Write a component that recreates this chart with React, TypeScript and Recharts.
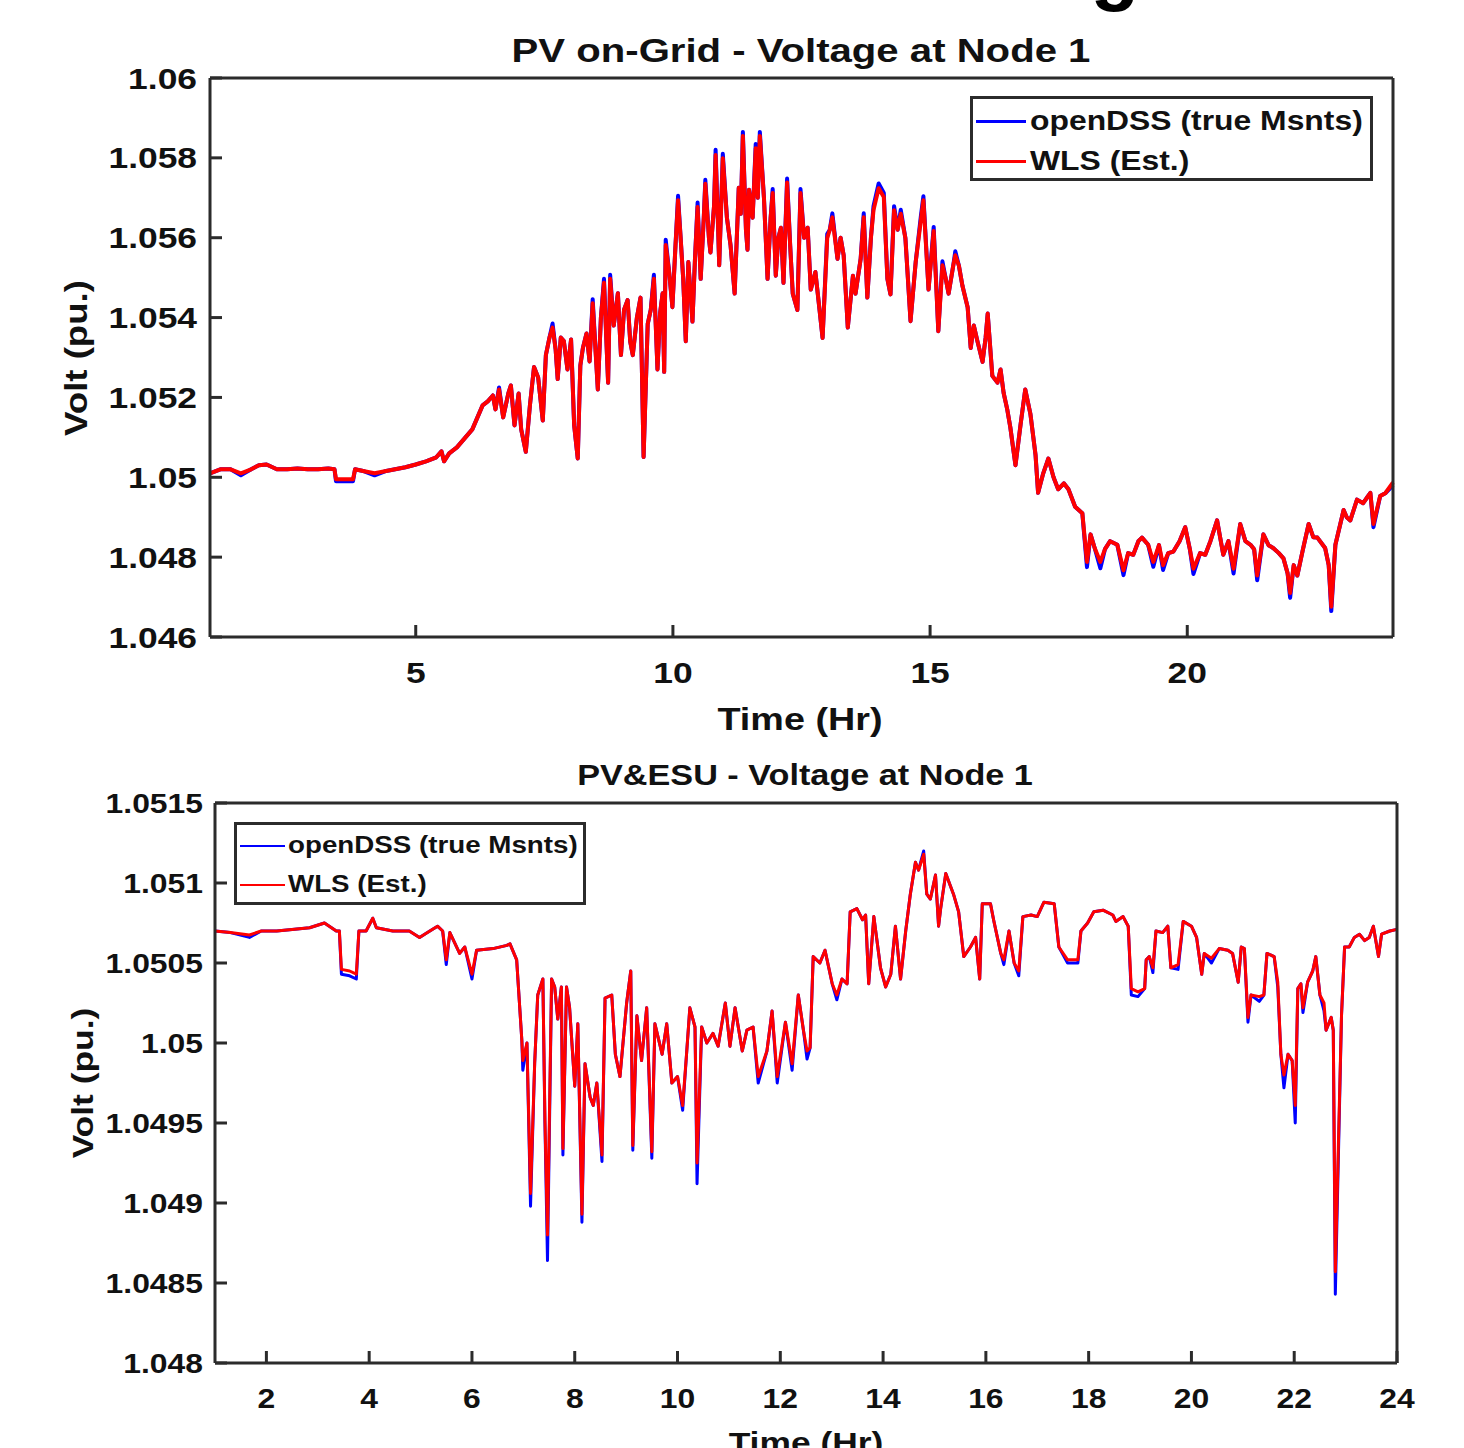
import React from 'react';
import { LineChart, Line, XAxis, YAxis, Legend } from 'recharts';

// ---------- PV on-Grid: voltage at node 1 ----------
const topHours = [
  1.0, 1.2, 1.4, 1.6, 1.8, 1.95, 2.1, 2.3, 2.5, 2.7,
  2.9, 3.1, 3.3, 3.42, 3.45, 3.6, 3.78, 3.82, 4.0, 4.2,
  4.4, 4.6, 4.8, 5.0, 5.2, 5.4, 5.5, 5.55, 5.65, 5.8,
  5.9, 6.0, 6.1, 6.2, 6.3, 6.4, 6.5, 6.55, 6.62, 6.7,
  6.8, 6.85, 6.92, 7.0, 7.05, 7.14, 7.22, 7.3, 7.38, 7.47,
  7.53, 7.6, 7.66, 7.72, 7.76, 7.82, 7.88, 7.95, 8.02, 8.08,
  8.15, 8.2, 8.25, 8.32, 8.38, 8.44, 8.54, 8.6, 8.66, 8.72,
  8.74, 8.78, 8.85, 8.93, 8.99, 9.05, 9.12, 9.17, 9.22, 9.3,
  9.37, 9.43, 9.51, 9.57, 9.63, 9.7, 9.75, 9.8, 9.83, 9.86,
  9.93, 9.99, 10.05, 10.1, 10.15, 10.2, 10.25, 10.3, 10.38, 10.43,
  10.48, 10.54, 10.6, 10.63, 10.7, 10.73, 10.8, 10.83, 10.88, 10.9,
  10.97, 11.05, 11.12, 11.2, 11.28, 11.32, 11.36, 11.42, 11.45, 11.48,
  11.55, 11.61, 11.65, 11.69, 11.77, 11.84, 11.9, 11.94, 12.0, 12.05,
  12.1, 12.15, 12.22, 12.28, 12.33, 12.42, 12.48, 12.55, 12.62, 12.68,
  12.77, 12.85, 12.91, 13.0, 13.05, 13.1, 13.2, 13.26, 13.32, 13.4,
  13.5, 13.55, 13.65, 13.71, 13.78, 13.85, 13.9, 14.0, 14.1, 14.17,
  14.23, 14.3, 14.37, 14.43, 14.52, 14.62, 14.72, 14.82, 14.87, 14.97,
  15.07, 15.16, 15.24, 15.3, 15.36, 15.45, 15.49, 15.56, 15.63, 15.73,
  15.79, 15.85, 15.92, 16.02, 16.08, 16.12, 16.21, 16.31, 16.37, 16.43,
  16.5, 16.56, 16.66, 16.76, 16.85, 16.95, 17.05, 17.1, 17.2, 17.3,
  17.4, 17.49, 17.6, 17.69, 17.82, 17.96, 18.05, 18.12, 18.2, 18.31,
  18.4, 18.5, 18.64, 18.76, 18.85, 18.95, 19.05, 19.12, 19.24, 19.34,
  19.45, 19.53, 19.63, 19.73, 19.85, 19.96, 20.05, 20.12, 20.25, 20.35,
  20.45, 20.58, 20.7, 20.8, 20.9, 21.03, 21.13, 21.23, 21.3, 21.36,
  21.48, 21.58, 21.67, 21.78, 21.87, 21.95, 22.0, 22.07, 22.14, 22.25,
  22.36, 22.45, 22.53, 22.68, 22.75, 22.8, 22.88, 23.04, 23.1, 23.17,
  23.3, 23.42, 23.5, 23.56, 23.62, 23.75, 23.85, 24.0,
];

// openDSS (true measurements)
const topTrue = [
  1.0501, 1.0502, 1.0502, 1.05005, 1.0502, 1.0503, 1.05032, 1.0502, 1.0502, 1.05022,
  1.0502, 1.0502, 1.05022, 1.0502, 1.0499, 1.0499, 1.0499, 1.0502, 1.05015, 1.05005,
  1.05015, 1.0502, 1.05025, 1.05032, 1.0504, 1.0505, 1.05065, 1.0504, 1.0506, 1.05075,
  1.0509, 1.05105, 1.0512, 1.0515, 1.0518, 1.0519, 1.05205, 1.0517, 1.05225, 1.0515,
  1.0521, 1.0523, 1.0513, 1.0521, 1.0512, 1.05064, 1.0518, 1.05276, 1.0525, 1.05142,
  1.05306, 1.0535, 1.05385, 1.0532, 1.05246, 1.0535, 1.05341, 1.0527, 1.05345, 1.0513,
  1.05047, 1.0528, 1.05324, 1.0536, 1.0529, 1.05446, 1.0522, 1.054, 1.05497, 1.053,
  1.05237, 1.05507, 1.0538, 1.05461, 1.05306, 1.0542, 1.05444, 1.0534, 1.05306, 1.054,
  1.0545, 1.05051, 1.05384, 1.0542, 1.05507, 1.0527, 1.0541, 1.05461, 1.05264, 1.05595,
  1.0551, 1.05426, 1.0558, 1.05705, 1.056, 1.05497, 1.05341, 1.05539, 1.0539, 1.0555,
  1.05688, 1.05497, 1.0565, 1.05745, 1.056, 1.05563, 1.0568, 1.0582, 1.0562, 1.05531,
  1.0581, 1.0565, 1.05582, 1.0546, 1.05725, 1.0566, 1.05865, 1.0562, 1.0557, 1.0572,
  1.0565, 1.05835, 1.057, 1.05865, 1.057, 1.05497, 1.0565, 1.05722, 1.05505, 1.056,
  1.05625, 1.05487, 1.05748, 1.0558, 1.0546, 1.05419, 1.05722, 1.056, 1.05625, 1.0547,
  1.05514, 1.0542, 1.05349, 1.05609, 1.0562, 1.05661, 1.05547, 1.056, 1.05556, 1.05375,
  1.05505, 1.0546, 1.05547, 1.05661, 1.0545, 1.056, 1.05679, 1.05736, 1.05712, 1.05497,
  1.05458, 1.05679, 1.0562, 1.0567, 1.05599, 1.05391, 1.05539, 1.05653, 1.05704, 1.0547,
  1.05627, 1.05366, 1.05541, 1.055, 1.0546, 1.0553, 1.05566, 1.0553, 1.05479, 1.05426,
  1.05324, 1.0538, 1.05341, 1.05289, 1.0535, 1.0541, 1.05254, 1.05237, 1.0527, 1.05211,
  1.0517, 1.05125, 1.0503, 1.05133, 1.0522, 1.05159, 1.05056, 1.04961, 1.0501, 1.05047,
  1.05, 1.0497, 1.04985, 1.0497, 1.04926, 1.0491, 1.04775, 1.04857, 1.04823, 1.04772,
  1.0482, 1.0484, 1.04831, 1.04755, 1.0481, 1.04806, 1.0484, 1.04849, 1.04831, 1.04776,
  1.0483, 1.04768, 1.0481, 1.04814, 1.0484, 1.04875, 1.0482, 1.04758, 1.0481, 1.04806,
  1.0484, 1.04892, 1.04806, 1.0484, 1.04759, 1.04883, 1.0484, 1.04831, 1.0482, 1.04742,
  1.04857, 1.0483, 1.04823, 1.0481, 1.04797, 1.0476, 1.04698, 1.0478, 1.04754, 1.0482,
  1.04883, 1.0485, 1.04849, 1.04823, 1.0478, 1.04665, 1.04831, 1.04918, 1.049, 1.04892,
  1.04944, 1.04935, 1.0495, 1.04961, 1.04875, 1.04953, 1.0496, 1.0498,
];

// WLS (estimated)
const topEst = [
  1.0501, 1.0502, 1.0502, 1.0501, 1.0502, 1.0503, 1.05032, 1.0502, 1.0502, 1.05022,
  1.0502, 1.0502, 1.05022, 1.0502, 1.04995, 1.04995, 1.04995, 1.0502, 1.05015, 1.0501,
  1.05015, 1.0502, 1.05025, 1.05032, 1.0504, 1.0505, 1.05065, 1.0504, 1.0506, 1.05075,
  1.0509, 1.05105, 1.0512, 1.0515, 1.0518, 1.0519, 1.05205, 1.0517, 1.0522, 1.0515,
  1.0521, 1.0523, 1.0513, 1.0521, 1.0512, 1.05064, 1.0518, 1.05276, 1.0525, 1.05142,
  1.05306, 1.0535, 1.05375, 1.0532, 1.05246, 1.0535, 1.05341, 1.0527, 1.05345, 1.0513,
  1.05047, 1.0528, 1.05324, 1.0536, 1.0529, 1.05436, 1.0522, 1.054, 1.05487, 1.053,
  1.05237, 1.05497, 1.0538, 1.05461, 1.05306, 1.0542, 1.05444, 1.0534, 1.05306, 1.054,
  1.0545, 1.05051, 1.05384, 1.0542, 1.05497, 1.0527, 1.0541, 1.05461, 1.05264, 1.05582,
  1.0551, 1.05426, 1.0558, 1.05694, 1.056, 1.05497, 1.05341, 1.05539, 1.0539, 1.0555,
  1.05677, 1.05497, 1.0565, 1.05735, 1.056, 1.05563, 1.0568, 1.05807, 1.0562, 1.05531,
  1.05799, 1.0565, 1.05582, 1.0546, 1.05725, 1.0566, 1.05855, 1.0562, 1.0557, 1.0572,
  1.0565, 1.05824, 1.057, 1.05855, 1.057, 1.05497, 1.0565, 1.05712, 1.05505, 1.056,
  1.05625, 1.05487, 1.05738, 1.0558, 1.0546, 1.05419, 1.05712, 1.056, 1.05625, 1.0547,
  1.05514, 1.0542, 1.05349, 1.05599, 1.0562, 1.05651, 1.05547, 1.056, 1.05556, 1.05375,
  1.05505, 1.0546, 1.05547, 1.05651, 1.0545, 1.056, 1.05669, 1.05724, 1.05702, 1.05497,
  1.05458, 1.05669, 1.0562, 1.0566, 1.05599, 1.05391, 1.05539, 1.05643, 1.05694, 1.0547,
  1.05617, 1.05366, 1.05531, 1.055, 1.0546, 1.0553, 1.05556, 1.0553, 1.05479, 1.05426,
  1.05324, 1.0538, 1.05341, 1.05289, 1.0535, 1.0541, 1.05254, 1.05237, 1.0527, 1.05211,
  1.0517, 1.05125, 1.0503, 1.05133, 1.0522, 1.05159, 1.05056, 1.04961, 1.0501, 1.05047,
  1.05, 1.0497, 1.04985, 1.0497, 1.04926, 1.0491, 1.04788, 1.04857, 1.04823, 1.04788,
  1.0482, 1.0484, 1.04831, 1.04767, 1.0481, 1.04806, 1.0484, 1.04849, 1.04831, 1.04788,
  1.0483, 1.0478, 1.0481, 1.04814, 1.0484, 1.04875, 1.0482, 1.04771, 1.0481, 1.04806,
  1.0484, 1.04892, 1.04806, 1.0484, 1.04771, 1.04883, 1.0484, 1.04831, 1.0482, 1.04754,
  1.04857, 1.0483, 1.04823, 1.0481, 1.04797, 1.0476, 1.0471, 1.0478, 1.04754, 1.0482,
  1.04883, 1.0485, 1.04849, 1.04823, 1.0478, 1.04676, 1.04831, 1.04918, 1.049, 1.04892,
  1.04944, 1.04935, 1.0495, 1.04961, 1.04883, 1.04953, 1.0496, 1.04987,
];

// ---------- PV & ESU: voltage at node 1 ----------
const bottomHours = [
  1.0, 1.3, 1.67, 1.9, 2.2, 2.5, 2.84, 3.13, 3.36, 3.42,
  3.46, 3.62, 3.75, 3.8, 3.94, 4.07, 4.14, 4.46, 4.78, 4.98,
  5.18, 5.33, 5.43, 5.5, 5.57, 5.76, 5.86, 6.0, 6.09, 6.41,
  6.68, 6.74, 6.87, 6.97, 6.99, 7.07, 7.14, 7.22, 7.28, 7.38,
  7.42, 7.47, 7.55, 7.61, 7.67, 7.74, 7.77, 7.84, 7.9, 8.0,
  8.06, 8.14, 8.2, 8.3, 8.36, 8.43, 8.53, 8.59, 8.72, 8.79,
  8.88, 9.01, 9.09, 9.13, 9.21, 9.3, 9.4, 9.5, 9.56, 9.7,
  9.79, 9.89, 10.0, 10.1, 10.18, 10.24, 10.34, 10.38, 10.47, 10.57,
  10.69, 10.79, 10.93, 11.02, 11.12, 11.26, 11.35, 11.47, 11.57, 11.74,
  11.84, 11.94, 12.1, 12.23, 12.35, 12.45, 12.52, 12.58, 12.64, 12.77,
  12.87, 13.01, 13.1, 13.2, 13.3, 13.36, 13.49, 13.6, 13.66, 13.72,
  13.82, 13.95, 14.05, 14.15, 14.24, 14.34, 14.44, 14.53, 14.63, 14.69,
  14.79, 14.85, 14.92, 15.02, 15.08, 15.12, 15.22, 15.37, 15.47, 15.57,
  15.7, 15.8, 15.88, 15.93, 16.09, 16.15, 16.29, 16.35, 16.45, 16.55,
  16.64, 16.72, 16.88, 17.0, 17.13, 17.33, 17.42, 17.59, 17.79, 17.85,
  17.98, 18.1, 18.28, 18.47, 18.53, 18.67, 18.77, 18.83, 18.96, 19.09,
  19.12, 19.18, 19.25, 19.31, 19.44, 19.54, 19.6, 19.74, 19.84, 20.0,
  20.1, 20.2, 20.25, 20.39, 20.54, 20.71, 20.8, 20.91, 20.97, 21.03,
  21.1, 21.16, 21.32, 21.41, 21.47, 21.61, 21.68, 21.74, 21.8, 21.88,
  21.96, 22.02, 22.07, 22.13, 22.17, 22.26, 22.36, 22.42, 22.5, 22.58,
  22.62, 22.72, 22.76, 22.8, 22.92, 22.98, 23.07, 23.17, 23.27, 23.37,
  23.46, 23.54, 23.64, 23.7, 23.86, 24.0,
];

const bottomTrue = [
  1.0507, 1.05069, 1.05066, 1.0507, 1.0507, 1.05071, 1.05072, 1.05075, 1.0507, 1.0507,
  1.05043, 1.05042, 1.0504, 1.0507, 1.0507, 1.05078, 1.05072, 1.0507, 1.0507, 1.05066,
  1.0507, 1.05073, 1.0507, 1.05049, 1.05069, 1.05056, 1.0506, 1.0504, 1.05058, 1.05059,
  1.05061, 1.05062, 1.05052, 1.05002, 1.04983, 1.05, 1.04898, 1.04987, 1.0503, 1.0504,
  1.0495, 1.04864, 1.0504, 1.05035, 1.05015, 1.05035, 1.0493, 1.05035, 1.05022, 1.04973,
  1.05012, 1.04888, 1.04987, 1.04966, 1.04961, 1.04975, 1.04926, 1.05028, 1.0503, 1.04993,
  1.04979, 1.05025, 1.05045, 1.04933, 1.05017, 1.04989, 1.05022, 1.04928, 1.05012, 1.04993,
  1.05012, 1.04975, 1.04979, 1.04958, 1.04995, 1.05022, 1.0501, 1.04912, 1.0501, 1.05,
  1.05006, 1.04998, 1.05025, 1.04998, 1.05022, 1.04995, 1.05008, 1.0501, 1.04975, 1.04995,
  1.0502, 1.04975, 1.05013, 1.04983, 1.0503, 1.05008, 1.0499, 1.04997, 1.05054, 1.0505,
  1.05058, 1.05037, 1.05027, 1.0504, 1.05037, 1.05082, 1.05084, 1.05077, 1.0508, 1.05037,
  1.05079, 1.05047, 1.05035, 1.05043, 1.05073, 1.0504, 1.0507, 1.05093, 1.05113, 1.05108,
  1.0512, 1.05093, 1.0509, 1.05105, 1.05073, 1.05084, 1.05106, 1.05093, 1.05082, 1.05054,
  1.0506, 1.05066, 1.0504, 1.05087, 1.05087, 1.05077, 1.05056, 1.05049, 1.0507, 1.0505,
  1.05042, 1.05079, 1.0508, 1.05079, 1.05088, 1.05087, 1.0506, 1.0505, 1.0505, 1.0507,
  1.05075, 1.05082, 1.05083, 1.0508, 1.05076, 1.05079, 1.05073, 1.0503, 1.05029, 1.05034,
  1.05052, 1.05054, 1.05044, 1.0507, 1.05069, 1.05073, 1.05047, 1.05046, 1.05076, 1.05073,
  1.05066, 1.05043, 1.05056, 1.0505, 1.05059, 1.05058, 1.05056, 1.05038, 1.0506, 1.05059,
  1.05013, 1.0503, 1.05026, 1.0503, 1.05056, 1.05054, 1.05035, 1.04993, 1.04972, 1.04993,
  1.04989, 1.0495, 1.05034, 1.05037, 1.05019, 1.05038, 1.05045, 1.05054, 1.0503, 1.0502,
  1.05008, 1.05016, 1.05008, 1.04843, 1.05017, 1.0506, 1.0506, 1.05066, 1.05068, 1.05064,
  1.05066, 1.05073, 1.05054, 1.05068, 1.0507, 1.05071,
];

const bottomEst = [
  1.0507, 1.05069, 1.050675, 1.0507, 1.0507, 1.05071, 1.05072, 1.05075, 1.0507, 1.0507,
  1.05046, 1.05045, 1.05043, 1.0507, 1.0507, 1.05078, 1.05072, 1.0507, 1.0507, 1.05066,
  1.0507, 1.05073, 1.0507, 1.05052, 1.05069, 1.05056, 1.0506, 1.05043, 1.05058, 1.05059,
  1.05061, 1.05062, 1.05052, 1.05002, 1.04989, 1.05, 1.04906, 1.04987, 1.0503, 1.0504,
  1.04952, 1.0488, 1.0504, 1.05035, 1.05015, 1.05035, 1.04934, 1.05035, 1.05022, 1.04973,
  1.05012, 1.04893, 1.04987, 1.04966, 1.04961, 1.04975, 1.0493, 1.05028, 1.0503, 1.04993,
  1.04979, 1.05025, 1.05045, 1.04936, 1.05017, 1.04989, 1.05022, 1.04932, 1.05012, 1.04993,
  1.05012, 1.04975, 1.04979, 1.04961, 1.04995, 1.05022, 1.0501, 1.04925, 1.0501, 1.05,
  1.05006, 1.04998, 1.05025, 1.04998, 1.05022, 1.04995, 1.05008, 1.0501, 1.04979, 1.04995,
  1.0502, 1.04979, 1.05013, 1.04987, 1.0503, 1.05008, 1.04995, 1.04997, 1.05054, 1.0505,
  1.05058, 1.05037, 1.0503, 1.0504, 1.05037, 1.05082, 1.05084, 1.05077, 1.0508, 1.05037,
  1.05079, 1.05047, 1.05035, 1.05043, 1.05073, 1.0504, 1.0507, 1.05093, 1.05113, 1.05108,
  1.05118, 1.05093, 1.0509, 1.05105, 1.05073, 1.05084, 1.05106, 1.05093, 1.05082, 1.05054,
  1.0506, 1.05066, 1.0504, 1.05087, 1.05087, 1.05077, 1.05056, 1.05052, 1.0507, 1.0505,
  1.05045, 1.05079, 1.0508, 1.05079, 1.05088, 1.05087, 1.0506, 1.05052, 1.05052, 1.0507,
  1.05075, 1.05082, 1.05083, 1.0508, 1.05076, 1.05079, 1.05073, 1.05034, 1.05032, 1.05034,
  1.05052, 1.05054, 1.05047, 1.0507, 1.05069, 1.05073, 1.05047, 1.05049, 1.05076, 1.05073,
  1.05066, 1.05043, 1.05056, 1.05053, 1.05059, 1.05058, 1.05056, 1.05038, 1.0506, 1.05059,
  1.05016, 1.0503, 1.05029, 1.0503, 1.05056, 1.05054, 1.05038, 1.04993, 1.0498, 1.04993,
  1.04989, 1.04961, 1.05034, 1.05037, 1.05022, 1.05038, 1.05045, 1.05054, 1.0503, 1.05025,
  1.05008, 1.05016, 1.05008, 1.04857, 1.05017, 1.0506, 1.0506, 1.05066, 1.05068, 1.05064,
  1.05066, 1.05073, 1.05054, 1.05068, 1.0507, 1.05071,
];

// Axis ticks
const topXTicks = [5, 10, 15, 20];
const topYTicks = [1.046, 1.048, 1.05, 1.052, 1.054, 1.056, 1.058, 1.06];
const bottomXTicks = [2, 4, 6, 8, 10, 12, 14, 16, 18, 20, 22, 24];
const bottomYTicks = [1.048, 1.0485, 1.049, 1.0495, 1.05, 1.0505, 1.051, 1.0515];

const seriesNames = ['openDSS (true Msnts)', 'WLS (Est.)'];
const seriesColors = ['#0000ff', '#ff0000'];

const FONT = '"Liberation Sans", Arial, Helvetica, sans-serif';
const INK = '#111111';
const AXIS = '#2b2b2b';
const STRETCH = 1.18; // wide Helvetica-style lettering

type Row = { t: number; trueV: number; est: number };

const toRows = (hours: number[], tv: number[], ev: number[]): Row[] =>
  hours.map((t, i) => ({ t, trueV: tv[i], est: ev[i] }));

type LegendCfg = {
  left: number; top: number; width: number; height: number;
  lineX: number; lineW: number; textX: number; rowY: number[];
  fontSize: number; lineWidth: number;
};

type PanelProps = {
  top: number;
  height: number;
  rows: Row[];
  xTicks: number[];
  yTicks: number[];
  yDomain: [number, number];
  margin: { top: number; right: number; bottom: number; left: number };
  yAxisWidth: number;
  xAxisHeight: number;
  tickFont: number;
  xTickMargin: number;
  yTickMargin: number;
  lineWidth: number;
  legend: LegendCfg;
};

const LegendBox = ({ cfg }: { cfg: LegendCfg }) => (
  <div
    style={{
      position: 'relative',
      width: cfg.width,
      height: cfg.height,
      boxSizing: 'border-box',
      border: `3px solid ${AXIS}`,
      background: '#ffffff',
      fontFamily: FONT,
      fontWeight: 'bold',
      fontSize: cfg.fontSize,
      color: INK,
    }}
  >
    {seriesNames.map((name, i) => (
      <React.Fragment key={name}>
        <div
          style={{
            position: 'absolute',
            left: cfg.lineX,
            top: cfg.rowY[i] - cfg.lineWidth / 2,
            width: cfg.lineW,
            height: cfg.lineWidth,
            background: seriesColors[i],
          }}
        />
        <div
          style={{
            position: 'absolute',
            left: cfg.textX,
            top: cfg.rowY[i],
            transform: `translateY(-50%) scaleX(${STRETCH})`,
            transformOrigin: 'left center',
            lineHeight: 1,
            whiteSpace: 'nowrap',
          }}
        >
          {name}
        </div>
      </React.Fragment>
    ))}
  </div>
);

const fmt = (v: number) => String(v);

const Panel = (p: PanelProps) => {
  const tickStyle = {
    fontFamily: FONT,
    fontWeight: 'bold' as const,
    fontSize: p.tickFont,
    fill: INK,
  };
  const yTick = (props: any) => (
    <text
      transform={`translate(${props.x} ${props.y}) scale(${STRETCH} 1)`}
      textAnchor="end"
      dominantBaseline="central"
      style={tickStyle}
    >
      {fmt(props.payload.value)}
    </text>
  );
  const xTick = (props: any) => (
    <text
      transform={`translate(${props.x} ${props.y}) scale(${STRETCH} 1)`}
      textAnchor="middle"
      dominantBaseline="central"
      style={tickStyle}
    >
      {fmt(props.payload.value)}
    </text>
  );
  const axisLine = { stroke: AXIS, strokeWidth: 3 };
  const tickLine = { stroke: AXIS, strokeWidth: 3 };
  return (
    <div style={{ position: 'absolute', left: 0, top: p.top }}>
      <LineChart width={1464} height={p.height} data={p.rows} margin={p.margin}>
        <XAxis
          xAxisId="b"
          dataKey="t"
          type="number"
          domain={[1, 24]}
          ticks={p.xTicks}
          interval={0}
          height={p.xAxisHeight}
          axisLine={axisLine}
          tickLine={tickLine}
          tickSize={-12}
          tickMargin={p.xTickMargin}
          tick={xTick}
        />
        <XAxis
          xAxisId="t"
          orientation="top"
          dataKey="t"
          type="number"
          domain={[1, 24]}
          ticks={p.xTicks}
          interval={0}
          height={1}
          axisLine={axisLine}
          tickLine={tickLine}
          tickSize={-12}
          tick={false}
        />
        <YAxis
          yAxisId="l"
          type="number"
          domain={p.yDomain}
          ticks={p.yTicks}
          interval={0}
          width={p.yAxisWidth}
          axisLine={axisLine}
          tickLine={tickLine}
          tickSize={-12}
          tickMargin={p.yTickMargin}
          tick={yTick}
        />
        <YAxis
          yAxisId="r"
          orientation="right"
          type="number"
          domain={p.yDomain}
          ticks={p.yTicks}
          interval={0}
          width={1}
          axisLine={axisLine}
          tickLine={tickLine}
          tickSize={-12}
          tick={false}
        />
        <Legend
          layout="vertical"
          align="center"
          verticalAlign="middle"
          wrapperStyle={{ position: 'absolute', left: p.legend.left, top: p.legend.top, width: p.legend.width }}
          content={() => <LegendBox cfg={p.legend} />}
        />
        <Line
          xAxisId="b"
          yAxisId="l"
          type="linear"
          dataKey="trueV"
          name={seriesNames[0]}
          stroke={seriesColors[0]}
          strokeWidth={p.lineWidth}
          strokeLinejoin="round"
          dot={false}
          isAnimationActive={false}
        />
        <Line
          xAxisId="t"
          yAxisId="r"
          type="linear"
          dataKey="est"
          name={seriesNames[1]}
          stroke={seriesColors[1]}
          strokeWidth={p.lineWidth}
          strokeLinejoin="round"
          dot={false}
          isAnimationActive={false}
        />
      </LineChart>
    </div>
  );
};

const Caption = ({ x, y, size, text, rotate }: { x: number; y: number; size: number; text: string; rotate?: boolean }) => (
  <div
    style={{
      position: 'absolute',
      left: x,
      top: y,
      transform: `translate(-50%, -50%)${rotate ? ' rotate(-90deg)' : ''} scaleX(${STRETCH})`,
      fontFamily: FONT,
      fontWeight: 'bold',
      fontSize: size,
      lineHeight: 1,
      whiteSpace: 'nowrap',
      color: INK,
    }}
  >
    {text}
  </div>
);

export default function App() {
  const topRows = toRows(topHours, topTrue, topEst);
  const bottomRows = toRows(bottomHours, bottomTrue, bottomEst);
  return (
    <div
      style={{
        position: 'absolute',
        left: 0,
        top: 0,
        width: 1464,
        height: 1448,
        background: '#ffffff',
        overflow: 'hidden',
      }}
    >
      <svg style={{ position: 'absolute', left: 0, top: 0 }} width={1464} height={40}>
        <text x={1115} y={-5} textAnchor="middle" fontFamily={FONT} fontWeight="bold" fontSize={80} fill="#000">
          g
        </text>
      </svg>

      <Panel
        top={0}
        height={740}
        rows={topRows}
        xTicks={topXTicks}
        yTicks={topYTicks}
        yDomain={[1.046, 1.06]}
        margin={{ top: 77, right: 70, bottom: 3, left: 0 }}
        yAxisWidth={210}
        xAxisHeight={100}
        tickFont={30}
        xTickMargin={47}
        yTickMargin={25}
        lineWidth={4}
        legend={{
          left: 970, top: 96, width: 403, height: 85,
          lineX: 3, lineW: 50, textX: 57, rowY: [22, 62],
          fontSize: 27, lineWidth: 3,
        }}
      />
      <Caption x={801} y={50} size={34} text="PV on-Grid - Voltage at Node 1" />
      <Caption x={800} y={719} size={32} text="Time (Hr)" />
      <Caption x={76} y={358} size={31} text="Volt (pu.)" rotate />

      <Panel
        top={740}
        height={708}
        rows={bottomRows}
        xTicks={bottomXTicks}
        yTicks={bottomYTicks}
        yDomain={[1.048, 1.0515]}
        margin={{ top: 62, right: 66, bottom: 5, left: 0 }}
        yAxisWidth={215}
        xAxisHeight={80}
        tickFont={27}
        xTickMargin={47}
        yTickMargin={24}
        lineWidth={3}
        legend={{
          left: 234, top: 82, width: 352, height: 83,
          lineX: 3, lineW: 45, textX: 51, rowY: [21, 60],
          fontSize: 23.5, lineWidth: 2,
        }}
      />
      <Caption x={805} y={775} size={29} text="PV&ESU - Voltage at Node 1" />
      <Caption x={806} y={1443} size={30} text="Time (Hr)" />
      <Caption x={83} y={1083} size={30} text="Volt (pu.)" rotate />
    </div>
  );
}
